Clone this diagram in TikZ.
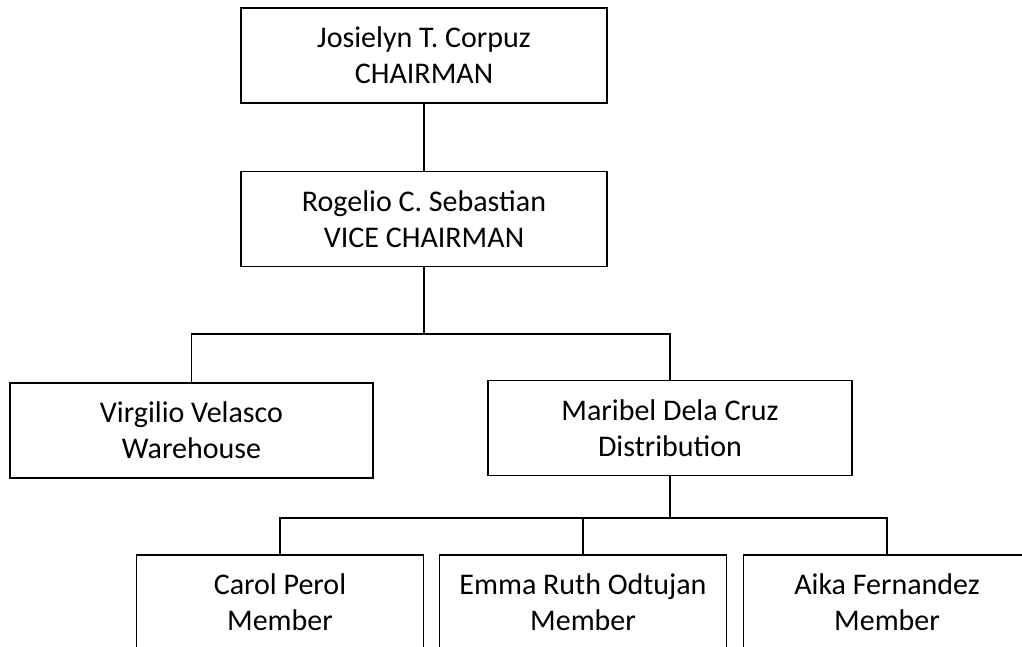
\documentclass[tikz,border=0pt]{standalone}
\usepackage{fontspec}
\setmainfont{Carlito}
\begin{document}
\begin{tikzpicture}[x=1pt,y=-1pt,
  box/.style={draw,line width=1.3pt,align=center,inner sep=0pt,
    font=\fontsize{30}{36}\selectfont},
  wide/.style={box,minimum width=366pt,minimum height=95pt},
  member/.style={box,minimum width=287pt,minimum height=95pt},
  link/.style={line width=1.4pt}]
\useasboundingbox (0,0) rectangle (1022,646);
\clip (0,0) rectangle (1022,646);
\node[wide] (chair) at (424,55.5) {Josielyn T. Corpuz\\CHAIRMAN};
\node[wide] (vice) at (424,219) {Rogelio C. Sebastian\\VICE CHAIRMAN};
\node[wide,minimum width=363pt] (virg) at (191.5,430.5) {Virgilio Velasco\\Warehouse};
\node[wide,minimum width=364pt] (mar) at (670,428) {Maribel Dela Cruz\\Distribution};
\node[member] (carol) at (280,602.5) {Carol Perol\\Member};
\node[member] (emma) at (583,602.5) {Emma Ruth Odtujan\\Member};
\node[member] (aika) at (887,602.5) {Aika Fernandez\\Member};
\coordinate (b1) at (424,334);
\coordinate (b2) at (670,518);
\draw[link] (chair.south) -- (vice.north);
\draw[link] (vice.south) -- (b1);
\draw[link] (virg.north) |- (b1) -| (mar.north);
\draw[link] (mar.south) -- (b2);
\draw[link] (carol.north) |- (b2) -| (aika.north);
\draw[link] (emma.north) -- (emma.north|-b2);
\end{tikzpicture}
\end{document}
